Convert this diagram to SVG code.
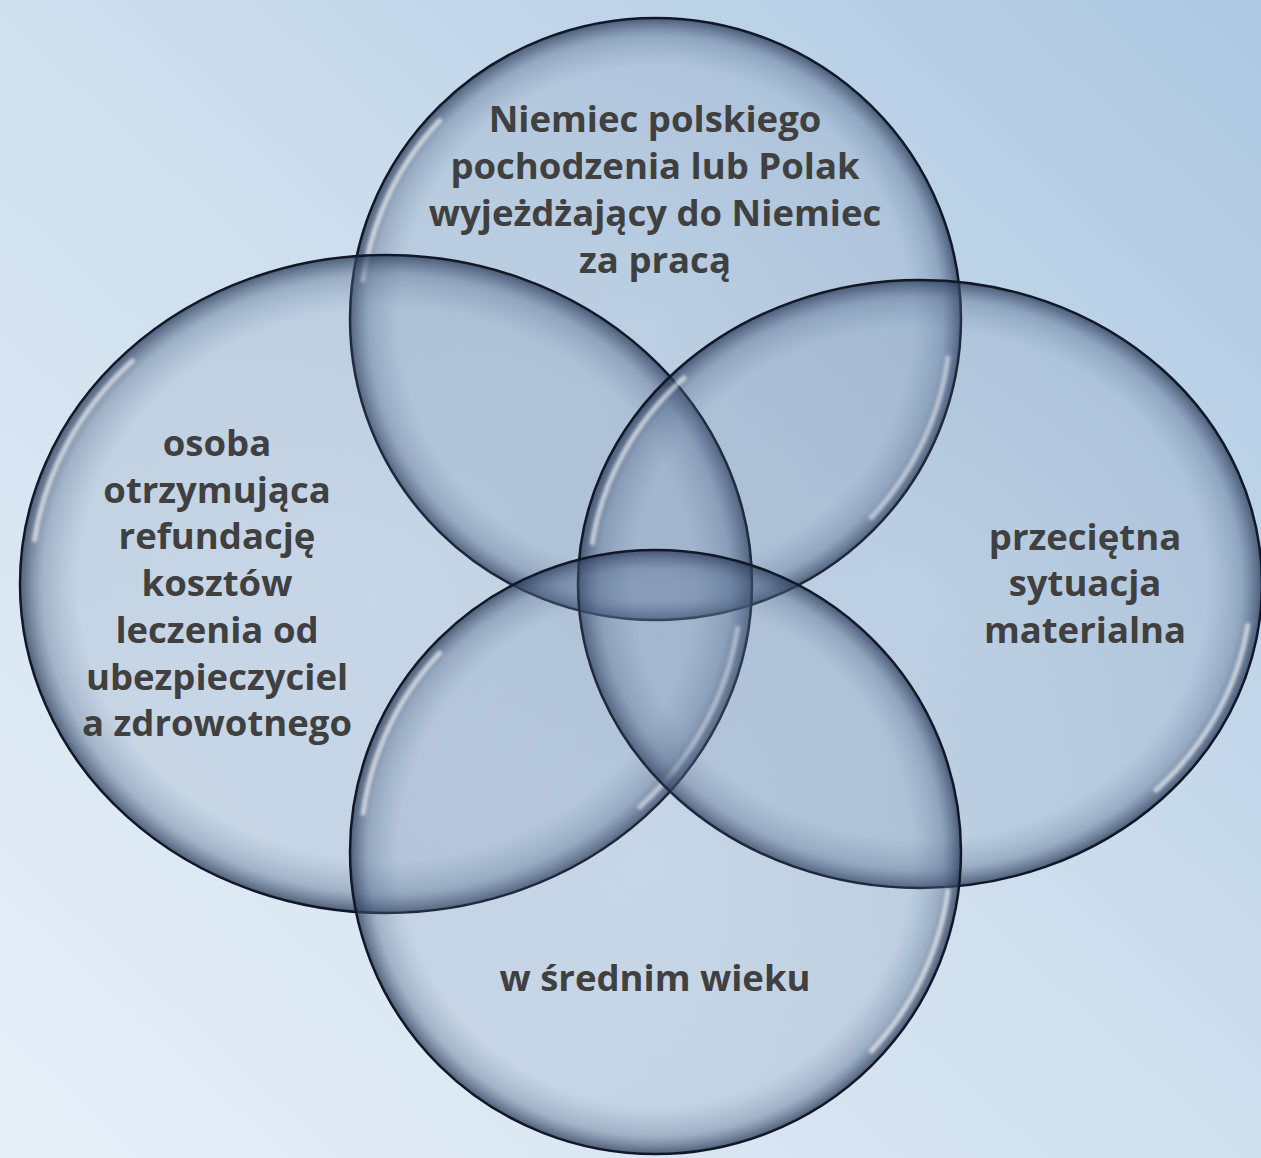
<svg xmlns="http://www.w3.org/2000/svg" width="1261" height="1158" viewBox="0 0 1261 1158">
<defs>
<linearGradient id="bg" x1="1" y1="0" x2="0" y2="1">
<stop offset="0" stop-color="#adc8e2"/>
<stop offset="0.5" stop-color="#cfdfee"/>
<stop offset="1" stop-color="#e6eff8"/>
</linearGradient>
<radialGradient id="fill" cx="0.5" cy="0.5" r="0.5">
<stop offset="0" stop-color="#7088aa" stop-opacity="0.13"/>
<stop offset="0.84" stop-color="#6a82a4" stop-opacity="0.18"/>
<stop offset="0.94" stop-color="#4e6486" stop-opacity="0.4"/>
<stop offset="1" stop-color="#2a3a58" stop-opacity="0.78"/>
</radialGradient>
<filter id="soft" x="-10%" y="-10%" width="120%" height="120%">
<feGaussianBlur stdDeviation="1.8"/>
</filter>
</defs>
<style>
.shape{fill:url(#fill);stroke:#111827;stroke-width:2.5}
.hl{fill:none;stroke:#ffffff;stroke-opacity:0.6;stroke-width:5;stroke-dasharray:0 2 10 40 10 38;filter:url(#soft)}
.lbl{font-family:"Open Sans","DejaVu Sans",sans-serif;font-weight:bold;font-size:36.5px;fill:#404040;text-anchor:middle}
</style>
<rect width="1261" height="1158" fill="url(#bg)"/>
<g id="top">
<ellipse class="shape" cx="655.5" cy="319" rx="305.5" ry="301"/>
<ellipse class="hl" cx="655.5" cy="319" rx="295" ry="291" pathLength="100"/>
<text class="lbl" x="655" y="132">Niemiec polskiego</text>
<text class="lbl" x="655" y="179">pochodzenia lub Polak</text>
<text class="lbl" x="655" y="226">wyjeżdżający do Niemiec</text>
<text class="lbl" x="655" y="273">za pracą</text>
</g>
<g id="left">
<ellipse class="shape" cx="386" cy="584" rx="366" ry="329"/>
<ellipse class="hl" cx="386" cy="584" rx="355" ry="319" pathLength="100"/>
<text class="lbl" x="217" y="456">osoba</text>
<text class="lbl" x="217" y="503">otrzymująca</text>
<text class="lbl" x="217" y="549">refundację</text>
<text class="lbl" x="217" y="596">kosztów</text>
<text class="lbl" x="217" y="643">leczenia od</text>
<text class="lbl" x="217" y="690">ubezpieczyciel</text>
<text class="lbl" x="217" y="736">a zdrowotnego</text>
</g>
<g id="right">
<ellipse class="shape" cx="920" cy="584" rx="342" ry="304"/>
<ellipse class="hl" cx="920" cy="584" rx="331" ry="294" pathLength="100"/>
<text class="lbl" x="1085" y="550">przeciętna</text>
<text class="lbl" x="1085" y="596">sytuacja</text>
<text class="lbl" x="1085" y="643">materialna</text>
</g>
<g id="bottom">
<ellipse class="shape" cx="655.5" cy="852" rx="305.5" ry="302"/>
<ellipse class="hl" cx="655.5" cy="852" rx="295" ry="292" pathLength="100"/>
<text class="lbl" x="655" y="991">w średnim wieku</text>
</g>
<g id="connectors"/>
</svg>
